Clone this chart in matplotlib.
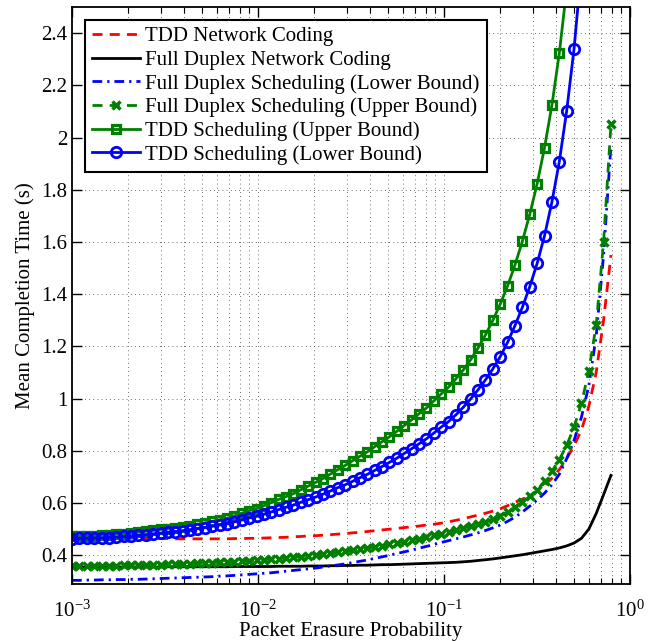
import numpy as np
import matplotlib.pyplot as plt
from matplotlib.ticker import FixedLocator, LogLocator, FuncFormatter, NullFormatter, LogFormatterSciNotation

plt.rcParams['font.family'] = ['Liberation Serif', 'DejaVu Serif']
plt.rcParams['mathtext.fontset'] = 'custom'
plt.rcParams['mathtext.rm'] = 'Liberation Serif'
plt.rcParams['mathtext.it'] = 'Liberation Serif:italic'
plt.rcParams['font.size'] = 15

# packet erasure probability (sample grid)
p = [0.001000, 0.001096, 0.001200, 0.001315, 0.001441, 0.001579, 0.001730, 0.001896,
     0.002077, 0.002276, 0.002494, 0.002732, 0.002993, 0.003280, 0.003593, 0.003937,
     0.004314, 0.004727, 0.005179, 0.005674, 0.006219, 0.006812, 0.007464, 0.008178,
     0.008960, 0.009825, 0.01076, 0.01179, 0.01292, 0.01415, 0.01551, 0.01699,
     0.01862, 0.02040, 0.02235, 0.02449, 0.02684, 0.02941, 0.03222, 0.03531,
     0.03870, 0.04240, 0.04646, 0.05091, 0.05578, 0.06112, 0.06697, 0.07338,
     0.08040, 0.08810, 0.09653, 0.1058, 0.1159, 0.1270, 0.1391, 0.1525,
     0.1671, 0.1831, 0.2006, 0.2198, 0.2408, 0.2639, 0.2891, 0.3168,
     0.3471, 0.3803, 0.4167, 0.4566, 0.5003, 0.5482, 0.6005, 0.6580,
     0.7210, 0.7899]

tdd_nc = [0.470, 0.470, 0.469, 0.469, 0.468, 0.468, 0.467, 0.467, 0.466, 0.466,
          0.465, 0.465, 0.464, 0.464, 0.463, 0.463, 0.463, 0.463, 0.463, 0.463,
          0.463, 0.463, 0.464, 0.464, 0.465, 0.465, 0.466, 0.467, 0.468, 0.469,
          0.471, 0.472, 0.474, 0.475, 0.477, 0.479, 0.481, 0.483, 0.486, 0.488,
          0.491, 0.494, 0.497, 0.500, 0.503, 0.506, 0.509, 0.512, 0.516, 0.519,
          0.523, 0.528, 0.534, 0.540, 0.547, 0.554, 0.561, 0.569, 0.578, 0.590,
          0.603, 0.615, 0.628, 0.646, 0.668, 0.695, 0.728, 0.770, 0.820, 0.880,
          0.970, 1.100, 1.300, 1.550]

fd_nc = [0.355, 0.355, 0.355, 0.355, 0.355, 0.355, 0.355, 0.355, 0.355, 0.355,
         0.355, 0.355, 0.355, 0.356, 0.356, 0.356, 0.356, 0.356, 0.356, 0.356,
         0.356, 0.356, 0.357, 0.357, 0.357, 0.357, 0.357, 0.357, 0.358, 0.358,
         0.358, 0.358, 0.359, 0.359, 0.359, 0.360, 0.360, 0.361, 0.361, 0.362,
         0.362, 0.363, 0.364, 0.364, 0.365, 0.366, 0.367, 0.368, 0.369, 0.370,
         0.371, 0.372, 0.373, 0.375, 0.377, 0.380, 0.383, 0.386, 0.390, 0.394,
         0.398, 0.402, 0.407, 0.412, 0.417, 0.422, 0.428, 0.436, 0.447, 0.465,
         0.500, 0.560, 0.632, 0.706]

fd_sched_lo = [0.304, 0.304, 0.305, 0.305, 0.306, 0.306, 0.307, 0.307, 0.308, 0.308,
               0.309, 0.310, 0.311, 0.312, 0.313, 0.314, 0.315, 0.316, 0.317, 0.318,
               0.320, 0.321, 0.323, 0.325, 0.327, 0.329, 0.331, 0.333, 0.336, 0.339,
               0.342, 0.345, 0.348, 0.351, 0.355, 0.359, 0.363, 0.367, 0.372, 0.377,
               0.382, 0.388, 0.394, 0.400, 0.407, 0.413, 0.420, 0.427, 0.434, 0.441,
               0.449, 0.456, 0.463, 0.470, 0.478, 0.486, 0.495, 0.505, 0.516, 0.530,
               0.546, 0.566, 0.588, 0.612, 0.638, 0.670, 0.710, 0.770, 0.840, 0.929,
               1.050, 1.240, 1.550, 1.970]

fd_sched_up = [0.358, 0.358, 0.358, 0.359, 0.359, 0.360, 0.360, 0.361, 0.362, 0.362,
               0.363, 0.364, 0.364, 0.365, 0.366, 0.367, 0.368, 0.369, 0.370, 0.372,
               0.373, 0.374, 0.376, 0.377, 0.379, 0.381, 0.383, 0.385, 0.387, 0.390,
               0.392, 0.395, 0.398, 0.401, 0.404, 0.407, 0.411, 0.415, 0.419, 0.423,
               0.427, 0.432, 0.437, 0.442, 0.447, 0.452, 0.458, 0.464, 0.470, 0.476,
               0.482, 0.489, 0.496, 0.504, 0.512, 0.519, 0.527, 0.538, 0.551, 0.567,
               0.585, 0.604, 0.626, 0.651, 0.683, 0.722, 0.766, 0.821, 0.891, 0.982,
               1.105, 1.283, 1.600, 2.050]

tdd_sched_up = [0.472, 0.473, 0.474, 0.475, 0.477, 0.478, 0.481, 0.483, 0.486, 0.488,
                0.492, 0.495, 0.499, 0.502, 0.506, 0.509, 0.514, 0.519, 0.524, 0.530,
                0.536, 0.542, 0.551, 0.561, 0.571, 0.579, 0.590, 0.602, 0.614, 0.625,
                0.636, 0.651, 0.665, 0.679, 0.694, 0.711, 0.728, 0.744, 0.762, 0.779,
                0.796, 0.816, 0.835, 0.854, 0.875, 0.897, 0.919, 0.942, 0.964, 0.991,
                1.018, 1.044, 1.076, 1.110, 1.149, 1.194, 1.244, 1.300, 1.362, 1.432,
                1.512, 1.603, 1.706, 1.823, 1.961, 2.124, 2.322, 2.570, 2.880]

tdd_sched_lo = [0.464, 0.465, 0.465, 0.466, 0.467, 0.468, 0.470, 0.472, 0.474, 0.476,
                0.479, 0.482, 0.485, 0.488, 0.491, 0.494, 0.498, 0.502, 0.506, 0.511,
                0.516, 0.521, 0.528, 0.535, 0.543, 0.549, 0.557, 0.566, 0.575, 0.584,
                0.592, 0.603, 0.613, 0.623, 0.634, 0.646, 0.659, 0.670, 0.683, 0.697,
                0.710, 0.725, 0.740, 0.756, 0.772, 0.790, 0.808, 0.827, 0.846, 0.868,
                0.891, 0.912, 0.938, 0.967, 0.999, 1.034, 1.072, 1.114, 1.161, 1.216,
                1.280, 1.350, 1.429, 1.518, 1.624, 1.753, 1.907, 2.102, 2.340, 2.650,
                3.000]

green = (0, 0.5, 0)

fig = plt.figure(figsize=(6.56, 6.41), dpi=100)
ax = fig.add_axes([72 / 656, 57 / 641, 558 / 656, 577 / 641])

ax.plot(p, tdd_nc, color='r', lw=2, dashes=(3.6, 2.6), label='TDD Network Coding')
ax.plot(p, fd_nc, color='k', lw=2, ls='-', label='Full Duplex Network Coding')
ax.plot(p, fd_sched_lo, color='b', lw=2, dashes=(3.5, 1.8, 0.8, 1.8),
        label='Full Duplex Scheduling (Lower Bound)')
ax.plot(p, fd_sched_up, color=green, lw=2, dashes=(3.6, 2.6), marker='x', ms=6, mew=2.5,
        label='Full Duplex Scheduling (Upper Bound)')
ax.plot(p[:len(tdd_sched_up)], tdd_sched_up, color=green, lw=2, marker='s', ms=6,
        mfc='none', mew=2.3, label='TDD Scheduling (Upper Bound)')
ax.plot(p[:len(tdd_sched_lo)], tdd_sched_lo, color='b', lw=2, marker='o', ms=7.5,
        mfc='none', mew=2, label='TDD Scheduling (Lower Bound)')

ax.set_xscale('log')
ax.set_xlim(1e-3, 1)
ax.set_ylim(0.29, 2.5)
ax.yaxis.set_major_locator(FixedLocator(np.arange(0.4, 2.41, 0.2)))
ax.yaxis.set_major_formatter(FuncFormatter(lambda v, _: '%g' % round(v, 2)))
ax.xaxis.set_major_locator(LogLocator(base=10, numticks=10))
ax.xaxis.set_minor_locator(LogLocator(base=10, subs=np.arange(2, 10), numticks=10))
ax.xaxis.set_minor_formatter(NullFormatter())
ax.xaxis.set_major_formatter(LogFormatterSciNotation())

ax.grid(True, which='major', ls=(0, (1, 4)), color='0.25', lw=0.6)
ax.xaxis.grid(True, which='minor', ls=(0, (1, 4)), color='0.25', lw=0.6)
ax.tick_params(which='both', direction='in', top=True, right=True, labelsize=15)
ax.tick_params(which='major', length=7, width=1)
ax.tick_params(which='minor', length=4, width=0.8)
ax.tick_params(axis='x', pad=12)
for s in ax.spines.values():
    s.set_linewidth(1.3)

ax.set_xlabel('Packet Erasure Probability', fontsize=15, labelpad=0)
ax.set_ylabel('Mean Completion Time (s)', fontsize=15, labelpad=4)

leg = ax.legend(loc='upper left', fancybox=False, edgecolor='k', framealpha=1,
                borderaxespad=0.6, handlelength=2.3, handletextpad=0.25,
                labelspacing=0.19, borderpad=0.35, numpoints=1, fontsize=15)
leg.get_frame().set_linewidth(1.5)

fig.savefig('out.png', dpi=100)
